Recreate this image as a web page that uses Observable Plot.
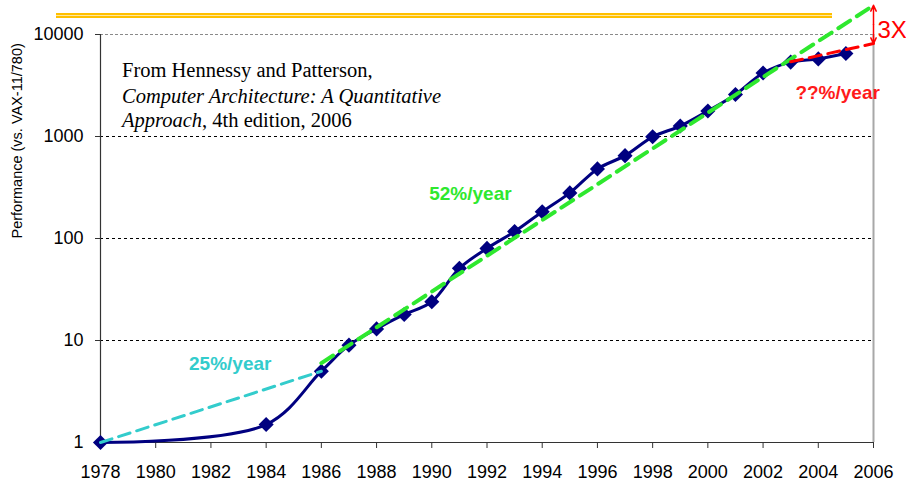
<!DOCTYPE html>
<html>
<head>
<meta charset="utf-8">
<script src="https://cdn.jsdelivr.net/npm/d3@7"></script>
<script src="https://cdn.jsdelivr.net/npm/@observablehq/plot@0.6"></script>
<style>
  body { margin: 0; background: #fff; }
  #wrap { position: relative; width: 906px; height: 481px; overflow: hidden; }
  #bar { position: absolute; left: 56px; top: 13px; width: 776px; height: 1px;
         border-top: 2px solid #FFC000; border-bottom: 2px solid #FFC000; background: #FFE7A0; }
</style>
</head>
<body>
<div id="wrap"><div id="bar"></div></div>
<script>
// Measured performance relative to VAX-11/780
const years = [1978, 1984, 1986, 1987, 1988, 1989, 1990, 1991, 1992, 1993, 1994, 1995,
               1996, 1997, 1998, 1999, 2000, 2001, 2002, 2003, 2004, 2005];
const perf  = [1, 1.5, 5, 9, 13, 18, 24, 51, 80, 117, 183, 280,
               481, 649, 993, 1267, 1779, 2584, 4195, 5364, 5764, 6505];

// Trend lines (endpoints)
const trend25Years = [1978, 1986];
const trend25 = [1, 5];
const trend52Years = [1986, 2005.9];
const trend52 = [6, 18500];
const trendRedYears = [2003, 2006];
const trendRed = [5400, 8150];

// "3X" gap arrow
const gapYear = 2006;
const gapLow = 8150;
const gapHigh = 19300;
const gapMid = 12500;
const gapLabelValue = 10900;

// Rate labels
const rateLabels = ["25%/year", "52%/year", "??%/year"];
const rateYears = [1982.7, 1991.4, 2004.7];
const rateValues = [5.9, 272, 2700];
const rateColors = ["#33CCCC", "#2EE82E", "#FF1A1A"];

// Tick labels
const yTicks = [1, 10, 100, 1000, 10000];
const xTicks = [1978, 1980, 1982, 1984, 1986, 1988, 1990, 1992, 1994, 1996, 1998, 2000, 2002, 2004, 2006];
const gridLines = [10, 100, 1000];

const series = years.map((y, i) => ({year: y, value: perf[i]}));
const t25 = trend25Years.map((y, i) => ({year: y, value: trend25[i]}));
const t52 = trend52Years.map((y, i) => ({year: y, value: trend52[i]}));
const tRed = trendRedYears.map((y, i) => ({year: y, value: trendRed[i]}));
const labels = rateLabels.map((t, i) => ({text: t, year: rateYears[i], value: rateValues[i], color: rateColors[i]}));

const chart = Plot.plot({
  width: 906,
  height: 481,
  marginTop: 34,
  marginBottom: 39,
  marginLeft: 100,
  marginRight: 33,
  style: {fontFamily: "'Liberation Sans', Arial, sans-serif", fontSize: "18px", color: "#000", background: "transparent"},
  x: {domain: [1978, 2006]},
  y: {type: "log", domain: [1, 10000]},
  marks: [
    Plot.ruleY(gridLines, {stroke: "#000", strokeWidth: 1, strokeDasharray: "3,3"}),
    Plot.ruleY([10000], {stroke: "#8a8a8a", strokeWidth: 1, strokeDasharray: "3,2"}),
    Plot.ruleX([2006], {stroke: "#a8a8a8", strokeWidth: 2}),
    Plot.ruleX([1978], {stroke: "#333", strokeWidth: 1.2}),
    Plot.ruleY([1], {stroke: "#333", strokeWidth: 1.2}),
    Plot.axisY({ticks: yTicks, tickFormat: d => String(d), tickSize: 5, tickPadding: 12, label: null, stroke: "#333"}),
    Plot.axisX({ticks: xTicks, tickFormat: d => String(d), tickSize: 6, tickPadding: 17, label: null, stroke: "#333"}),
    Plot.line(series, {x: "year", y: "value", stroke: "#000080", strokeWidth: 3, curve: "catmull-rom"}),
    Plot.dot(series, {x: "year", y: "value", symbol: "diamond2", r: 6.8, fill: "#000080", stroke: "none"}),
    Plot.line(t25, {x: "year", y: "value", stroke: "#33CCCC", strokeWidth: 3, strokeDasharray: "12,7"}),
    Plot.line(t52, {x: "year", y: "value", stroke: "#2EE82E", strokeWidth: 4, strokeDasharray: "14,8"}),
    Plot.line(tRed, {x: "year", y: "value", stroke: "#FF0000", strokeWidth: 3, strokeDasharray: "12,7"}),
    Plot.arrow([{x: gapYear, y1: gapMid, y2: gapHigh}], {x1: "x", x2: "x", y1: "y1", y2: "y2", stroke: "#FF0000", strokeWidth: 1.5, headLength: 9, headAngle: 50}),
    Plot.arrow([{x: gapYear, y1: gapMid, y2: gapLow}], {x1: "x", x2: "x", y1: "y1", y2: "y2", stroke: "#FF0000", strokeWidth: 1.5, headLength: 9, headAngle: 50}),
    Plot.text(["3X"], {x: gapYear, y: gapLabelValue, dx: 4, textAnchor: "start", fill: "#FF0000", fontSize: 24}),
    Plot.text(labels, {x: "year", y: "value", text: "text", fill: d => d.color, fontSize: 19, fontWeight: "bold"}),
    Plot.text(["Performance (vs. VAX-11/780)"], {frameAnchor: "left", dx: -83, rotate: -90, fontSize: 14.5, fill: "#000"})
  ]
});

// Source annotation with mixed italic runs
const ann = d3.select(chart).append("text")
  .attr("font-family", "'Liberation Serif', 'Times New Roman', serif")
  .attr("font-size", 20.5)
  .attr("text-anchor", "start")
  .attr("fill", "#000");
const annX = 122;
ann.append("tspan").attr("x", annX).attr("y", 77).text("From Hennessy and Patterson,");
ann.append("tspan").attr("x", annX).attr("y", 102.5).attr("font-style", "italic").text("Computer Architecture: A Quantitative");
ann.append("tspan").attr("x", annX).attr("y", 127).attr("font-style", "italic").text("Approach");
ann.append("tspan").text(", 4th edition, 2006");

chart.style.position = "absolute";
chart.style.left = "0";
chart.style.top = "0";
chart.style.overflow = "visible";
document.getElementById("wrap").appendChild(chart);
</script>
</body>
</html>
